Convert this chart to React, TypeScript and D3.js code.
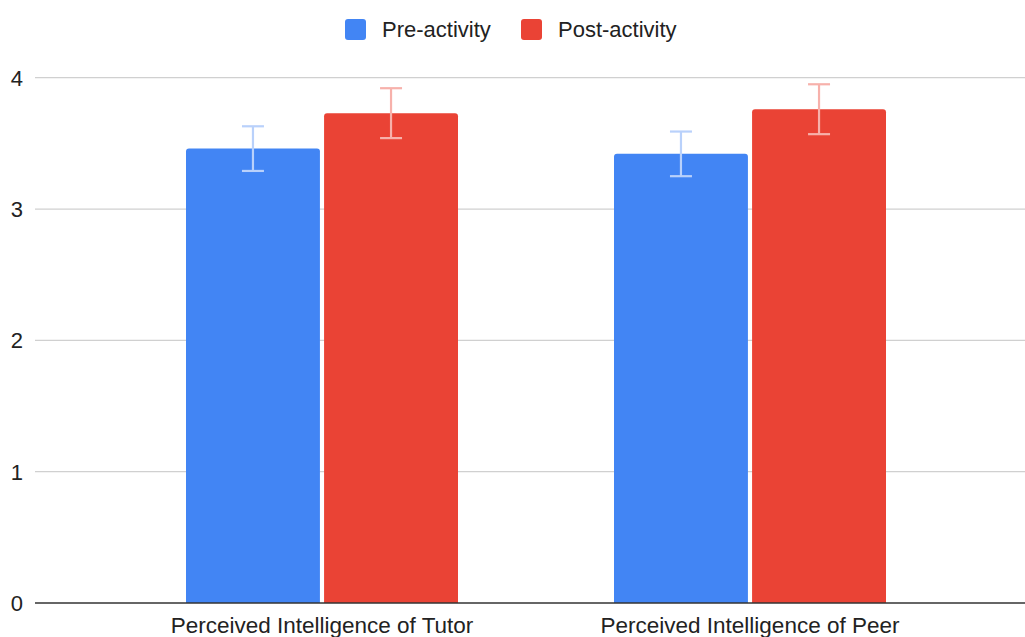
import React from "react";
import * as d3 from "d3";

const categories = ["Perceived Intelligence of Tutor", "Perceived Intelligence of Peer"];
const seriesNames = ["Pre-activity", "Post-activity"];
const preValues = [3.46, 3.42];
const postValues = [3.73, 3.76];
const preErrors = [0.17, 0.17];
const postErrors = [0.19, 0.19];
const yTicks = [0, 1, 2, 3, 4];

const colors = ["#4285F4", "#EA4335"];
const errColors = ["#b9d1fb", "#f7b1ab"];

export default function App() {
  const W = 1025, H = 637;
  const plotLeft = 35, plotRight = 1025;
  const y = d3.scaleLinear().domain([0, 4]).range([603, 77.7]);
  const x0 = d3.scaleBand<string>().domain(categories).range([108, 964]).padding(0);
  const groupW = 272;
  const x1 = d3.scaleBand<string>().domain(seriesNames).range([0, groupW]).paddingInner(0.03);
  const vals = [preValues, postValues];
  const errs = [preErrors, postErrors];
  const font = "'Liberation Sans', Arial, sans-serif";

  return (
    <svg width={W} height={H} style={{ position: "absolute", left: 0, top: 0, background: "#fff" }}>
      {yTicks.map((t) => (
        <g key={t}>
          {t !== 0 && (
            <line x1={plotLeft} x2={plotRight} y1={y(t)} y2={y(t)} stroke="#d0d0d0" strokeWidth={1.3} />
          )}
          <text x={23} y={y(t) + 8} textAnchor="end" fontFamily={font} fontSize={22} fill="#222">
            {t}
          </text>
        </g>
      ))}
      {categories.map((c, ci) => {
        const gx = x0(c)! + (x0.bandwidth() - groupW) / 2;
        return (
          <g key={c}>
            {seriesNames.map((s, si) => {
              const v = vals[si][ci];
              const bx = gx + x1(s)!;
              const bw = x1.bandwidth();
              const top = y(v);
              const cx = bx + bw / 2;
              const e = errs[si][ci];
              return (
                <g key={s}>
                  <path
                    d={`M${bx},${y(0)} V${top + 3} Q${bx},${top} ${bx + 3},${top} H${bx + bw - 3} Q${bx + bw},${top} ${bx + bw},${top + 3} V${y(0)} Z`}
                    fill={colors[si]}
                  />
                  <g stroke={errColors[si]} strokeWidth={2.2}>
                    <line x1={cx} x2={cx} y1={y(v + e)} y2={y(v - e)} />
                    <line x1={cx - 11} x2={cx + 11} y1={y(v + e)} y2={y(v + e)} />
                    <line x1={cx - 11} x2={cx + 11} y1={y(v - e)} y2={y(v - e)} />
                  </g>
                </g>
              );
            })}
            <text x={x0(c)! + x0.bandwidth() / 2} y={633} textAnchor="middle" fontFamily={font} fontSize={22.5} fill="#222">
              {c}
            </text>
          </g>
        );
      })}
      <line x1={plotLeft} x2={plotRight} y1={y(0)} y2={y(0)} stroke="#333" strokeWidth={1.5} />
      {seriesNames.map((s, si) => {
        const lx = si === 0 ? 345 : 521;
        return (
          <g key={s}>
            <rect x={lx} y={19} width={21} height={21} rx={3} fill={colors[si]} />
            <text x={lx + 37} y={37} fontFamily={font} fontSize={22} fill="#222">
              {s}
            </text>
          </g>
        );
      })}
    </svg>
  );
}
